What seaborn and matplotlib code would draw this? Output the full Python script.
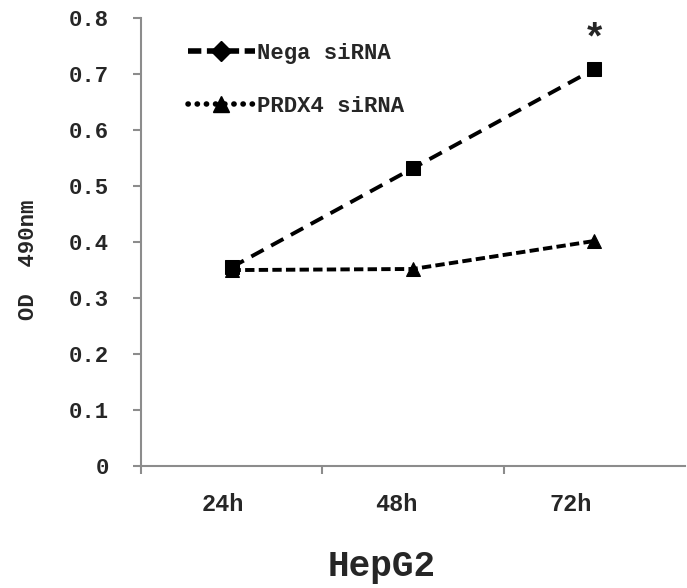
import matplotlib
matplotlib.use("Agg")
import matplotlib.pyplot as plt
from matplotlib.lines import Line2D
import seaborn as sns
import pandas as pd

time_points = ["24h", "48h", "72h"]
nega_sirna = [0.355, 0.532, 0.709]
prdx4_sirna = [0.350, 0.352, 0.402]
series_names = ["Nega siRNA", "PRDX4 siRNA"]
y_ticks = [0, 0.1, 0.2, 0.3, 0.4, 0.5, 0.6, 0.7, 0.8]
y_tick_labels = ["0", "0.1", "0.2", "0.3", "0.4", "0.5", "0.6", "0.7", "0.8"]

sns.set_style("white")
plt.rcParams["font.family"] = ["Liberation Mono", "DejaVu Sans Mono"]
plt.rcParams["font.weight"] = "bold"

df = pd.DataFrame({
    "pos": list(range(len(time_points))) * 2,
    "od": nega_sirna + prdx4_sirna,
    "group": [series_names[0]] * 3 + [series_names[1]] * 3,
})

fig = plt.figure(figsize=(6.87, 5.88), dpi=100)
ax = fig.add_axes([0.205, 0.2075, 0.792, 0.7615])

sns.lineplot(
    data=df, x="pos", y="od", hue="group", style="group",
    palette={series_names[0]: "black", series_names[1]: "black"},
    markers={series_names[0]: "s", series_names[1]: "^"},
    dashes={series_names[0]: (3.6, 2.2), series_names[1]: (2.4, 1.1)},
    markersize=10, linewidth=2.8, markeredgecolor="black",
    ax=ax, legend=False,
)

ax.set_xlim(-0.5, 2.5)
ax.set_ylim(0, 0.8)
ax.set_yticks(y_ticks)
ax.set_yticklabels(y_tick_labels, fontsize=16, fontweight="bold")
ax.set_xticks([-0.5, 0.5, 1.5])
ax.set_xticklabels([])
# category labels sit in the middle of each tick-bounded slot
for i, lab in enumerate(time_points):
    ax.text(-0.05 + 0.96 * i, -0.068, lab, ha="center", va="center",
            fontsize=17, fontweight="bold", transform=ax.transData, clip_on=False)

ax.tick_params(axis="x", which="both", direction="out", length=6, width=1.5,
               color="#8c8c8c", bottom=True, pad=14)
ax.tick_params(axis="y", which="both", direction="out", length=6, width=1.5,
               color="#8c8c8c", left=True, pad=17)
for side in ["top", "right"]:
    ax.spines[side].set_visible(False)
for side in ["left", "bottom"]:
    ax.spines[side].set_color("#8c8c8c")
    ax.spines[side].set_linewidth(1.5)

ax.set_xlabel("")
ax.set_ylabel("OD  490nm", fontsize=16, fontweight="bold")
ax.yaxis.set_label_coords(-0.188, 0.46)
fig.text(0.555, 0.037, "HepG2", ha="center", va="center", fontsize=26, fontweight="bold")

# significance marker above the 72h point
ax.text(2, 0.762, "*", ha="center", va="center", fontsize=28, fontweight="bold")

handles = [
    Line2D([0], [0], color="black", linestyle=(0, (2.4, 1.0)), linewidth=4,
           marker="D", markersize=10),
    Line2D([0], [0], color="black", linestyle=(0, (0.05, 1.6)), linewidth=4,
           dash_capstyle="round", marker="^", markersize=11),
]
leg = ax.legend(handles, series_names, loc="upper left", bbox_to_anchor=(0.05, 0.99),
                frameon=False, handlelength=3.0, handletextpad=0.1, labelspacing=1.45,
                prop={"family": "Liberation Mono", "weight": "bold", "size": 16})

fig.savefig("out.png", dpi=100)
